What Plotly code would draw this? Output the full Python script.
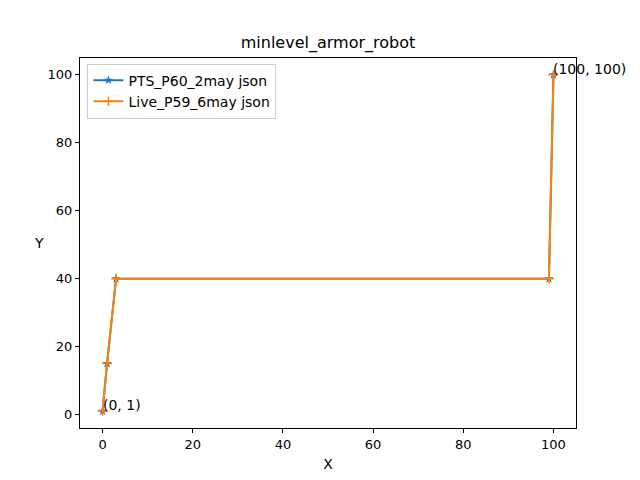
import plotly.graph_objects as go

x_vals = [0, 1, 3, 99, 100]
pts_y = [1, 15, 40, 40, 100]
live_y = [1, 15, 40, 40, 100]
series_names = ["PTS_P60_2may json", "Live_P59_6may json"]
x_ticks = [0, 20, 40, 60, 80, 100]
y_ticks = [0, 20, 40, 60, 80, 100]
font = "DejaVu Sans"

fig = go.Figure()

fig.add_trace(
    go.Scatter(
        x=x_vals,
        y=pts_y,
        mode="lines+markers",
        name=series_names[0],
        line=dict(color="#1f77b4", width=2),
        marker=dict(symbol="star", size=7, color="#1f77b4"),
    )
)
fig.add_trace(
    go.Scatter(
        x=x_vals,
        y=live_y,
        mode="lines+markers",
        name=series_names[1],
        line=dict(color="#ff7f0e", width=2),
        marker=dict(symbol="cross-thin", size=7, line=dict(color="#ff7f0e", width=1.5)),
    )
)

# point labels at first and last point
for xi, yi in [(x_vals[0], pts_y[0]), (x_vals[-1], pts_y[-1])]:
    fig.add_annotation(
        x=xi, y=yi, xref="x", yref="y",
        text=f"({xi}, {yi})",
        showarrow=False, xanchor="left", yanchor="bottom",
        xshift=-2, yshift=-4,
        font=dict(family=font, size=14, color="black"),
    )

# horizontal y label like matplotlib
fig.add_annotation(
    x=-0.097, y=0.5, xref="paper", yref="paper",
    text="Y", showarrow=False,
    font=dict(family=font, size=14, color="black"),
)

axis_style = dict(
    showline=True, linecolor="black", linewidth=1, mirror=True,
    ticks="outside", ticklen=4, tickcolor="black",
    showgrid=False, zeroline=False, automargin=False,
    tickfont=dict(family=font, size=13, color="black"),
)

fig.update_xaxes(
    range=[-5, 105], tickvals=x_ticks,
    title=dict(text="X", font=dict(family=font, size=14, color="black"), standoff=8),
    **axis_style,
)
fig.update_yaxes(range=[-3.95, 104.95], tickvals=y_ticks, **axis_style)

# page body adds 8px, so the figure is laid out at 624x464
fig.update_layout(
    width=624, height=464,
    margin=dict(l=72, r=56, t=50, b=44),
    paper_bgcolor="white", plot_bgcolor="white",
    title=dict(
        text="minlevel_armor_robot", x=0.5, xref="paper", xanchor="center",
        y=0.925, yanchor="middle",
        font=dict(family=font, size=16, color="black"),
    ),
    legend=dict(
        x=0.015, y=0.985, xanchor="left", yanchor="top",
        bordercolor="#cccccc", borderwidth=1, bgcolor="rgba(255,255,255,0.8)",
        font=dict(family=font, size=14, color="black"),
        tracegroupgap=0,
    ),
    font=dict(family=font),
)

fig.write_html("out.html")
